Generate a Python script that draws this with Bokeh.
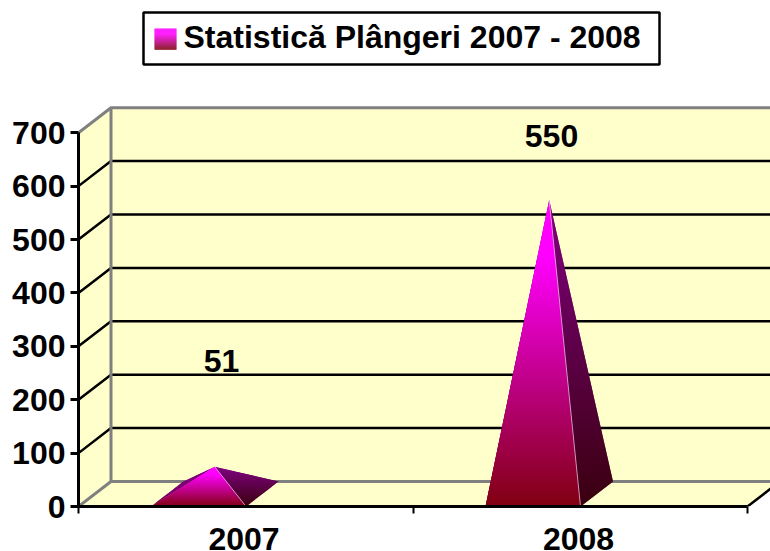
from bokeh.plotting import figure
from bokeh.models import FixedTicker, Range1d
from bokeh.core.properties import value
from bokeh.embed import file_html
from bokeh.resources import INLINE

years = ["2007", "2008"]
complaints = [51, 550]
y_ticks = [0, 100, 200, 300, 400, 500, 600, 700]
title_text = "Statistică Plângeri 2007 - 2008"

FONT = "Liberation Sans"
X0, Y0 = 78.0, 506.0      # picture pixel of data origin
PX_X, PX_Y = 334.5, 0.534 # px per category / per unit
DX, DY = 32.5 / PX_X, 25 / PX_Y  # depth offset in data units
WALL = "#FFFFCC"
GRAY = "#808080"

def xd(px): return (px - X0) / PX_X
def yd(py): return (Y0 - py) / PX_Y

p = figure(width=770, height=551, output_backend="svg", toolbar_location=None,
           x_range=Range1d(0, xd(770)), y_range=Range1d(0, yd(0)),
           min_border_left=78, min_border_right=0, min_border_top=0, min_border_bottom=45,
           frame_width=692, frame_height=506)
p.outline_line_color = None
p.grid.visible = False
p.background_fill_color = "white"

XMAX = 3.0
TOP = y_ticks[-1]
# walls and floor
p.patch([DX, XMAX, XMAX, DX], [DY, DY, TOP + DY, TOP + DY], fill_color=WALL, line_color=None)
p.patch([0, DX, DX, 0], [0, DY, TOP + DY, TOP], fill_color=WALL, line_color=None)
p.patch([0, 2, 2 + DX * 2, DX], [0, 0, DY * 2, DY], fill_color=WALL, line_color=None)

# gridlines
for v in y_ticks[1:-1]:
    p.line([0, DX, XMAX], [v, v + DY, v + DY], line_color="black", line_width=2.5)
# gray frame edges
p.line([XMAX, DX, 0], [TOP + DY, TOP + DY, TOP], line_color=GRAY, line_width=3)
p.line([DX, DX], [DY, TOP + DY], line_color=GRAY, line_width=3)
p.line([0, DX, XMAX], [0, DY, DY], line_color=GRAY, line_width=3)
p.line([2, 2 + DX * 2], [0, DY * 2], line_color="black", line_width=2.5)


def clip_band(poly, lo, hi):
    def clip(pts, inside, cross):
        out = []
        for i, a in enumerate(pts):
            b = pts[(i + 1) % len(pts)]
            if inside(a):
                out.append(a)
            if inside(a) != inside(b):
                t = (cross - a[1]) / (b[1] - a[1])
                out.append((a[0] + t * (b[0] - a[0]), cross))
        return out
    pts = clip(poly, lambda q: q[1] >= lo, lo)
    if pts:
        pts = clip(pts, lambda q: q[1] <= hi, hi)
    return pts


def mix(c1, c2, t):
    return "#%02x%02x%02x" % tuple(round(a + (b - a) * t) for a, b in zip(c1, c2))


def gradient(poly, top_c, bot_c, hold=0.15, n=None):
    ys = [q[1] for q in poly]
    lo, hi = min(ys), max(ys)
    n = n or max(8, int((hi - lo) * PX_Y))
    xs_all, ys_all, cols = [], [], []
    for i in range(n):
        a = lo + (hi - lo) * i / n
        # each band reaches into the next one so no seams show between them
        b = min(hi, lo + (hi - lo) * (i + 1.8) / n)
        pts = clip_band(poly, a, b)
        if len(pts) < 3:
            continue
        s = 1 - (i + 0.5) / n  # 0 at top, 1 at bottom
        t = 0 if s < hold else (s - hold) / (1 - hold)
        xs_all.append([q[0] for q in pts])
        ys_all.append([q[1] for q in pts])
        cols.append(mix(top_c, bot_c, t))
    p.patches(xs_all, ys_all, fill_color=cols, line_color=None)


BAR_W = 95 / PX_X
BAR_OFF = 72.5 / PX_X  # left edge of the base from the category start
for i, v in enumerate(complaints):
    x0 = i + BAR_OFF
    x1 = x0 + BAR_W
    ax = (x0 + x1 + DX) / 2
    ay = DY / 2 + v
    # left face (only shows on low pyramids)
    gradient([(x0, 0), (x0 + DX, DY), (ax, ay)], (128, 0, 128), (120, 0, 100), hold=0.0)
    # right face
    gradient([(x1, 0), (x1 + DX, DY), (ax, ay)], (128, 0, 128), (58, 0, 14), hold=0.0)
    # front face
    gradient([(x0, 0), (x1, 0), (ax, ay)], (255, 0, 255), (128, 0, 16), hold=0.18)
    p.line([x1, ax], [0, ay], line_color="#e0b0d8", line_width=0.8)

# value labels
lab_x = [xd(221), xd(551)]
lab_y = [yd(360), yd(135)]
p.text(lab_x, lab_y, text=[str(v) for v in complaints], text_font=value(FONT),
       text_font_style="bold", text_font_size="32px", text_align="center",
       text_baseline="middle", text_color="black")

# legend box drawn as title
p.quad(left=[xd(143)], right=[xd(659)], top=[yd(12)], bottom=[yd(64)],
       fill_color="white", line_color="black", line_width=2.5)
n = 21
for i in range(n):
    s = i / (n - 1)
    t = 0 if s < 0.25 else (s - 0.25) / 0.75
    p.quad(left=[xd(154)], right=[xd(176)], top=[yd(28 + i)], bottom=[yd(29.3 + i)],
           fill_color=mix((255, 0, 255), (128, 0, 16), t), line_color=None)
p.text([xd(183)], [yd(36)], text=[title_text], text_font=value(FONT),
       text_font_style="bold", text_font_size="32px", text_align="left",
       text_baseline="middle", text_color="black")

# axes
ya = p.yaxis[0]
ya.bounds = (0, TOP)
ya.ticker = FixedTicker(ticks=y_ticks)
ya.minor_tick_line_color = None
ya.major_tick_in = 0
ya.major_tick_out = 8
ya.major_tick_line_width = 3
ya.major_tick_line_color = "black"
ya.axis_line_width = 3
ya.axis_line_color = "black"
ya.major_label_text_font = FONT
ya.major_label_text_font_style = "bold"
ya.major_label_text_font_size = "32px"
ya.major_label_text_color = "black"
ya.major_label_standoff = 5

xa = p.xaxis[0]
xa.bounds = (0, 2)
xa.ticker = FixedTicker(ticks=[0.495, 1.495], minor_ticks=[0, 1, 2])
xa.major_label_overrides = {0.495: years[0], 1.495: years[1]}
xa.major_tick_in = 0
xa.major_tick_out = 0
xa.minor_tick_in = 0
xa.minor_tick_out = 7
xa.minor_tick_line_width = 2
xa.minor_tick_line_color = "black"
xa.axis_line_width = 3
xa.axis_line_color = "black"
xa.major_label_text_font = FONT
xa.major_label_text_font_style = "bold"
xa.major_label_text_font_size = "32px"
xa.major_label_text_color = "black"
xa.major_label_standoff = 14

open("out.html", "w").write(file_html(p, INLINE))
